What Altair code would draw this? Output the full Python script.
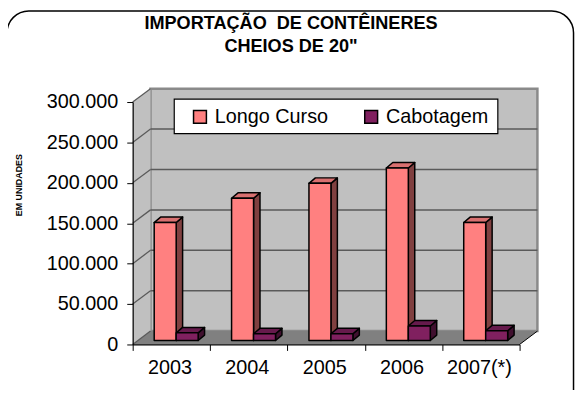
import altair as alt
import pandas as pd

# ---------------- data ----------------
categories = ["2003", "2004", "2005", "2006", "2007(*)"]
series = ["Longo Curso", "Cabotagem"]
longo_curso = [146000, 176000, 194500, 213500, 146000]
cabotagem = [9500, 8300, 8300, 18000, 12000]
y_ticks = [0, 50000, 100000, 150000, 200000, 250000, 300000]
title_lines = ["IMPORTAÇÃO\u00a0 DE CONTÊINERES", 'CHEIOS DE 20"']
y_title = "EM UNIDADES"

front_colors = ["#FF8080", "#80205F"]
side_colors = ["#804040", "#40102F"]
top_colors = ["#D87070", "#661A4C"]

# ---------------- geometry (3D look) ----------------
W, H = 391, 245
YMAX = y_ticks[-1]
NCAT = len(categories)
PXX = NCAT / W
PXY = YMAX / H
WALL_DX = 18 * PXX
WALL_DY = 13.5 * PXY
BAR_DX = 6.5 * PXX
BAR_DY = 5.5 * PXY
BASE = 4 * PXY
BAR_START = 0.278
BAR_W = 0.284

values = [longo_curso, cabotagem]
fronts, sides, tops = [], [], []
for s, name in enumerate(series):
    for i, cat in enumerate(categories):
        v = values[s][i]
        x0 = i + BAR_START + s * BAR_W
        x1 = x0 + BAR_W
        bid = f"{name}-{cat}"
        fronts.append({"series": name, "cat": cat, "x": x0, "x2": x1,
                       "y": BASE, "y2": BASE + v, "v": v})
        sides.append({"bar": bid, "col": side_colors[s], "x": x1, "y": BASE, "y2": BASE + v})
        sides.append({"bar": bid, "col": side_colors[s], "x": x1 + BAR_DX,
                      "y": BASE + BAR_DY, "y2": BASE + v + BAR_DY})
        tops.append({"bar": bid, "col": top_colors[s], "y": BASE + v, "x": x0, "x2": x1})
        tops.append({"bar": bid, "col": top_colors[s], "y": BASE + v + BAR_DY,
                     "x": x0 + BAR_DX, "x2": x1 + BAR_DX})

df_front = pd.DataFrame(fronts)
df_side = pd.DataFrame(sides)
df_top = pd.DataFrame(tops)
df_cat = pd.DataFrame({"cat": categories, "x": [i + 0.5 for i in range(NCAT)]})

xs = alt.Scale(domain=[0, NCAT], nice=False, zero=False)
ys = alt.Scale(domain=[0, YMAX], nice=False, zero=False)


def X(f):
    return alt.X(f, scale=xs)


def Y(f):
    return alt.Y(f, scale=ys)


one = pd.DataFrame({"k": [0]})

frame = alt.Chart(one).mark_rect(cornerRadius=22, fillOpacity=0, fill="white",
                                 stroke="black", strokeWidth=1.5).encode(
    x=alt.value(-127), x2=alt.value(445.5), y=alt.value(-92), y2=alt.value(400))

title_layers = [
    alt.Chart(pd.DataFrame({"t": [line]})).mark_text(
        font="Liberation Sans", fontSize=18.3, fontWeight="bold", color="black",
        align="center", baseline="alphabetic").encode(
        text="t:N", x=alt.value(160), y=alt.value(-73.5 + 22.5 * k))
    for k, line in enumerate(title_lines)
]

back_wall = alt.Chart(pd.DataFrame({"x": [WALL_DX], "x2": [NCAT + WALL_DX],
                                    "y": [WALL_DY], "y2": [YMAX + WALL_DY]})).mark_rect(
    fill="#C0C0C0", stroke="#8A8A8A", strokeWidth=2.5).encode(
    x=X("x:Q"), x2="x2:Q", y=Y("y:Q"), y2="y2:Q")

left_wall = alt.Chart(pd.DataFrame({"x": [0, WALL_DX], "y": [0, WALL_DY],
                                    "y2": [YMAX, YMAX + WALL_DY]})).mark_area(
    orient="vertical", fill="#C0C0C0").encode(x=X("x:Q"), y=Y("y:Q"), y2="y2:Q")

floor = alt.Chart(pd.DataFrame({"y": [0, WALL_DY], "x": [0, WALL_DX],
                                "x2": [NCAT, NCAT + WALL_DX]})).mark_area(
    orient="horizontal", fill="#808080").encode(y=Y("y:Q"), x=X("x:Q"), x2="x2:Q")

grid_back = alt.Chart(pd.DataFrame({"y": [t + WALL_DY for t in y_ticks[1:-1]],
                                    "x": WALL_DX, "x2": NCAT + WALL_DX})).mark_rule(
    color="#5A5A5A", strokeWidth=1.5).encode(x=X("x:Q"), x2="x2:Q", y=Y("y:Q"))

gl = []
for t in y_ticks:
    gl.append({"t": t, "x": 0, "y": t})
    gl.append({"t": t, "x": WALL_DX, "y": t + WALL_DY})
grid_left = alt.Chart(pd.DataFrame(gl)).mark_line(color="#5A5A5A", strokeWidth=1.3).encode(
    x=X("x:Q"), y=Y("y:Q"), detail="t:N")

edge = alt.Chart(pd.DataFrame({"x": [NCAT, NCAT + WALL_DX], "y": [0, WALL_DY]})).mark_line(
    color="black", strokeWidth=1).encode(x=X("x:Q"), y=Y("y:Q"))

legend_box = alt.Chart(one).mark_rect(fill="white", stroke="black", strokeWidth=1.2).encode(
    x=alt.value(42), x2=alt.value(369), y=alt.value(-3), y2=alt.value(32))

side_layer = alt.Chart(df_side).mark_area(orient="vertical", stroke="black",
                                          strokeWidth=1.5, strokeJoin="round").encode(
    x=X("x:Q"), y=Y("y:Q"), y2="y2:Q",
    detail="bar:N", color=alt.Color("col:N", scale=None))

top_layer = alt.Chart(df_top).mark_area(orient="horizontal", stroke="black",
                                        strokeWidth=1.5, strokeJoin="round").encode(
    y=Y("y:Q"), x=X("x:Q"), x2="x2:Q",
    detail="bar:N", color=alt.Color("col:N", scale=None))

cat_labels = alt.Chart(df_cat).mark_text(
    font="Liberation Sans", fontSize=20, color="black", align="center",
    baseline="top", dx=-1.5).encode(
    x=X("x:Q"), y=alt.value(H + 14), text="cat:N")

x_axis = alt.Axis(
    values=list(range(NCAT + 1)), labels=False, title=None,
    grid=False, tickSize=6, domainColor="black", domainWidth=1.2,
    tickColor="black", tickWidth=1, zindex=1)
y_axis = alt.Axis(
    values=y_ticks, labelExpr="replace(format(datum.value, ','), ',', '.')",
    labelFont="Liberation Sans", labelFontSize=20, labelColor="black",
    title=y_title, titleFont="Liberation Sans", titleFontSize=9, titleFontWeight="bold",
    titleX=-115, titleY=83.5, titleAngle=270, titleAlign="center", titleBaseline="middle",
    titleColor="black",
    grid=False, tickSize=6, labelPadding=9, domainColor="black", domainWidth=1.2,
    tickColor="black", labelOverlap=False, zindex=1)

front_layer = alt.Chart(df_front).mark_rect(stroke="black", strokeWidth=1.5,
                                            strokeJoin="round").encode(
    x=alt.X("x:Q", scale=xs, axis=x_axis), x2="x2:Q",
    y=alt.Y("y:Q", scale=ys, axis=y_axis), y2="y2:Q",
    color=alt.Color("series:N", scale=alt.Scale(domain=series, range=front_colors),
                    legend=alt.Legend(
                        title=None, orient="none", legendX=58, legendY=5,
                        direction="horizontal", symbolType="square", symbolSize=169,
                        symbolStrokeColor="black", symbolStrokeWidth=1.5,
                        labelFont="Liberation Sans", labelFontSize=20,
                        labelColor="black", labelOffset=5, columnPadding=33,
                        padding=0)),
    tooltip=["cat:N", "series:N", "v:Q"])

chart = alt.layer(
    frame, *title_layers, back_wall, left_wall, floor, grid_back, grid_left, edge,
    legend_box, side_layer, top_layer, cat_labels, front_layer
).properties(
    width=W, height=H,
    background="white",
    autosize=alt.AutoSizeParams(type="none"),
    padding={"left": 126, "top": 93, "right": 57, "bottom": 44},
).configure_view(stroke=None).configure_axis(
    labelFont="Liberation Sans", labelFontSize=20, labelColor="black", grid=False
)

chart.save("out.html", embed_options={"renderer": "svg", "actions": False})
